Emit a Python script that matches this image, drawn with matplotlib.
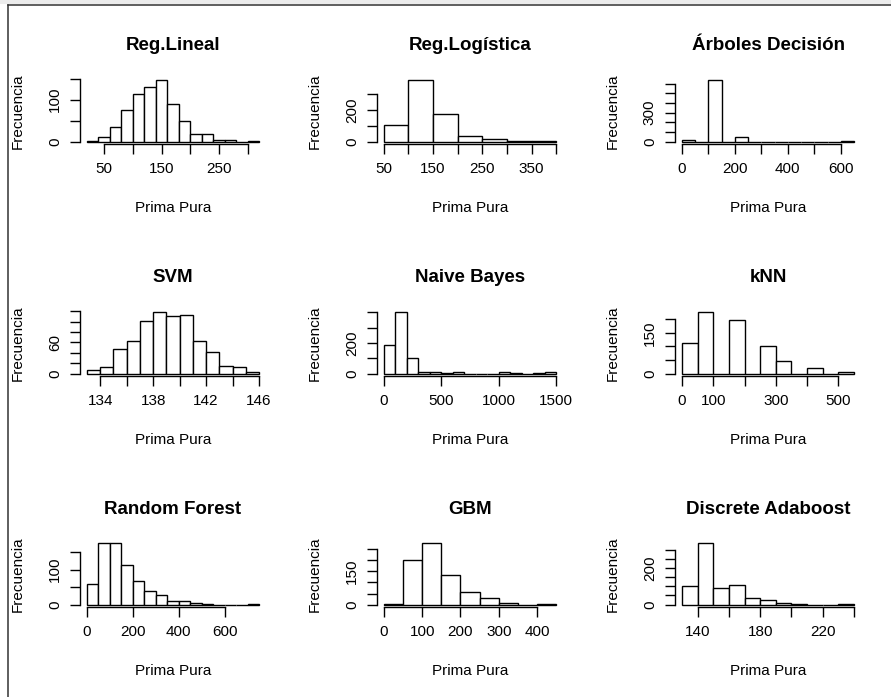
import matplotlib
matplotlib.use('Agg')
import matplotlib.pyplot as plt
import numpy as np
from matplotlib.lines import Line2D
from matplotlib.patches import Rectangle

plt.rcParams['font.family'] = ['Liberation Sans', 'DejaVu Sans']

# titulos de los modelos
titles = ["Reg.Lineal", "Reg.Logística", "Árboles Decisión",
          "SVM", "Naive Bayes", "kNN",
          "Random Forest", "GBM", "Discrete Adaboost"]

# histogramas: bordes de clase y frecuencias
edges_lineal = [20, 40, 60, 80, 100, 120, 140, 160, 180, 200, 220, 240, 260, 280, 300, 320]
counts_lineal = [1, 12, 35, 76, 114, 131, 146, 90, 49, 18, 18, 4, 3, 0, 1]

edges_logist = [50, 100, 150, 200, 250, 300, 350, 400]
counts_logist = [102, 386, 176, 38, 13, 2, 1]

edges_arbol = [0, 50, 100, 150, 200, 250, 300, 350, 400, 450, 500, 550, 600, 650]
counts_arbol = [21, 0, 634, 0, 52, 0, 0, 0, 0, 0, 0, 0, 1]

edges_svm = [133, 134, 135, 136, 137, 138, 139, 140, 141, 142, 143, 144, 145, 146]
counts_svm = [6, 12, 48, 62, 101, 118, 112, 114, 62, 42, 14, 12, 3]

edges_bayes = [0, 100, 200, 300, 400, 500, 600, 700, 800, 900, 1000, 1100, 1200, 1300, 1400, 1500]
counts_bayes = [184, 400, 100, 8, 8, 2, 8, 0, 0, 0, 8, 2, 0, 1, 8]

edges_knn = [0, 50, 100, 150, 200, 250, 300, 350, 400, 450, 500, 550]
counts_knn = [111, 225, 0, 198, 0, 102, 48, 0, 19, 0, 5]

edges_rf = [0, 50, 100, 150, 200, 250, 300, 350, 400, 450, 500, 550, 600, 650, 700, 750]
counts_rf = [60, 175, 175, 113, 68, 38, 26, 9, 9, 4, 1, 0, 0, 0, 1]

edges_gbm = [0, 50, 100, 150, 200, 250, 300, 350, 400, 450]
counts_gbm = [1, 201, 277, 134, 55, 30, 7, 0, 1]

edges_ada = [130, 140, 150, 160, 170, 180, 190, 200, 210, 220, 230, 240]
counts_ada = [99, 333, 90, 104, 37, 26, 9, 1, 0, 0, 1]

all_edges = [edges_lineal, edges_logist, edges_arbol, edges_svm, edges_bayes,
             edges_knn, edges_rf, edges_gbm, edges_ada]
all_counts = [counts_lineal, counts_logist, counts_arbol, counts_svm, counts_bayes,
              counts_knn, counts_rf, counts_gbm, counts_ada]

# marcas de los ejes
xticks = [[50, 100, 150, 200, 250, 300],
          [50, 100, 150, 200, 250, 300, 350, 400],
          [0, 100, 200, 300, 400, 500, 600],
          [134, 136, 138, 140, 142, 144, 146],
          [0, 500, 1000, 1500],
          [0, 100, 200, 300, 400, 500],
          [0, 200, 400, 600],
          [0, 100, 200, 300, 400],
          [140, 160, 180, 200, 220, 240]]
xlabels = [["50", "", "150", "", "250", ""],
           ["50", "", "150", "", "250", "", "350", ""],
           ["0", "", "200", "", "400", "", "600"],
           ["134", "", "138", "", "142", "", "146"],
           ["0", "500", "1000", "1500"],
           ["0", "100", "", "300", "", "500"],
           ["0", "200", "400", "600"],
           ["0", "100", "200", "300", "400"],
           ["140", "", "180", "", "220", ""]]
yticks = [[0, 50, 100, 150],
          [0, 100, 200, 300],
          [0, 100, 200, 300, 400, 500, 600],
          [0, 20, 40, 60, 80, 100, 120],
          [0, 100, 200, 300, 400],
          [0, 50, 100, 150, 200],
          [0, 50, 100, 150],
          [0, 50, 100, 150, 200, 250],
          [0, 50, 100, 150, 200, 250, 300]]
ylabels = [["0", "", "100", ""],
           ["0", "", "200", ""],
           ["0", "", "", "300", "", "", ""],
           ["0", "", "", "60", "", "", ""],
           ["0", "", "200", "", ""],
           ["0", "", "", "150", ""],
           ["0", "", "100", ""],
           ["0", "", "", "150", "", ""],
           ["0", "", "", "", "200", "", ""]]

W, H = 891, 697
col_left = [80, 377, 675]
row_top = [78, 310, 541]
pw, ph = 186, 66
px = 72 / 100  # pixel -> points

fig = plt.figure(figsize=(W / 100, H / 100), dpi=100)

for i in range(9):
    r, c = divmod(i, 3)
    ax = fig.add_axes([col_left[c] / W, 1 - (row_top[r] + ph) / H, pw / W, ph / H])
    e = np.array(all_edges[i])
    cnt = all_counts[i]
    ax.bar(e[:-1], cnt, width=np.diff(e), align='edge', facecolor='white',
           edgecolor='black', linewidth=1.0)
    lo, hi = e[0], e[-1]
    ax.set_xlim(lo - 0.04 * (hi - lo), hi + 0.04 * (hi - lo))
    ym = max(cnt)
    ax.set_ylim(-0.04 * ym, 1.04 * ym)
    ax.spines['top'].set_visible(False)
    ax.spines['right'].set_visible(False)
    for s in ['left', 'bottom']:
        ax.spines[s].set_linewidth(1.0)
    ax.spines['left'].set_bounds(yticks[i][0], yticks[i][-1])
    ax.spines['bottom'].set_bounds(xticks[i][0], xticks[i][-1])
    ax.set_xticks(xticks[i])
    ax.set_xticklabels(xlabels[i])
    ax.set_yticks(yticks[i])
    ax.set_yticklabels(ylabels[i], rotation=90, va='center')
    ax.tick_params(axis='both', length=7, width=1.0, labelsize=11)
    ax.tick_params(axis='x', pad=6)
    ax.tick_params(axis='y', pad=6)
    ax.annotate(titles[i], (0.5, 1), xycoords='axes fraction', xytext=(0, 32 * px),
                textcoords='offset points', ha='center', va='center',
                fontsize=13.5, fontweight='bold')
    ax.annotate("Prima Pura", (0.5, 0), xycoords='axes fraction', xytext=(0, -64 * px),
                textcoords='offset points', ha='center', va='center', fontsize=11)
    ax.annotate("Frecuencia", (0, 0.5), xycoords='axes fraction', xytext=(-62 * px, 0),
                textcoords='offset points', ha='center', va='center', rotation=90,
                fontsize=11)

# marco de la captura
fig.add_artist(Rectangle((0, 1 - 4 / H), 1, 4 / H, transform=fig.transFigure,
                         facecolor='#ececec', edgecolor='none'))
fig.add_artist(Line2D([7.5 / W, 1], [1 - 5 / H, 1 - 5 / H], transform=fig.transFigure,
                      color='#333333', linewidth=1.1))
fig.add_artist(Line2D([7.5 / W, 7.5 / W], [0, 1 - 5 / H], transform=fig.transFigure,
                      color='#333333', linewidth=1.1))

fig.savefig("out.png", dpi=100)
